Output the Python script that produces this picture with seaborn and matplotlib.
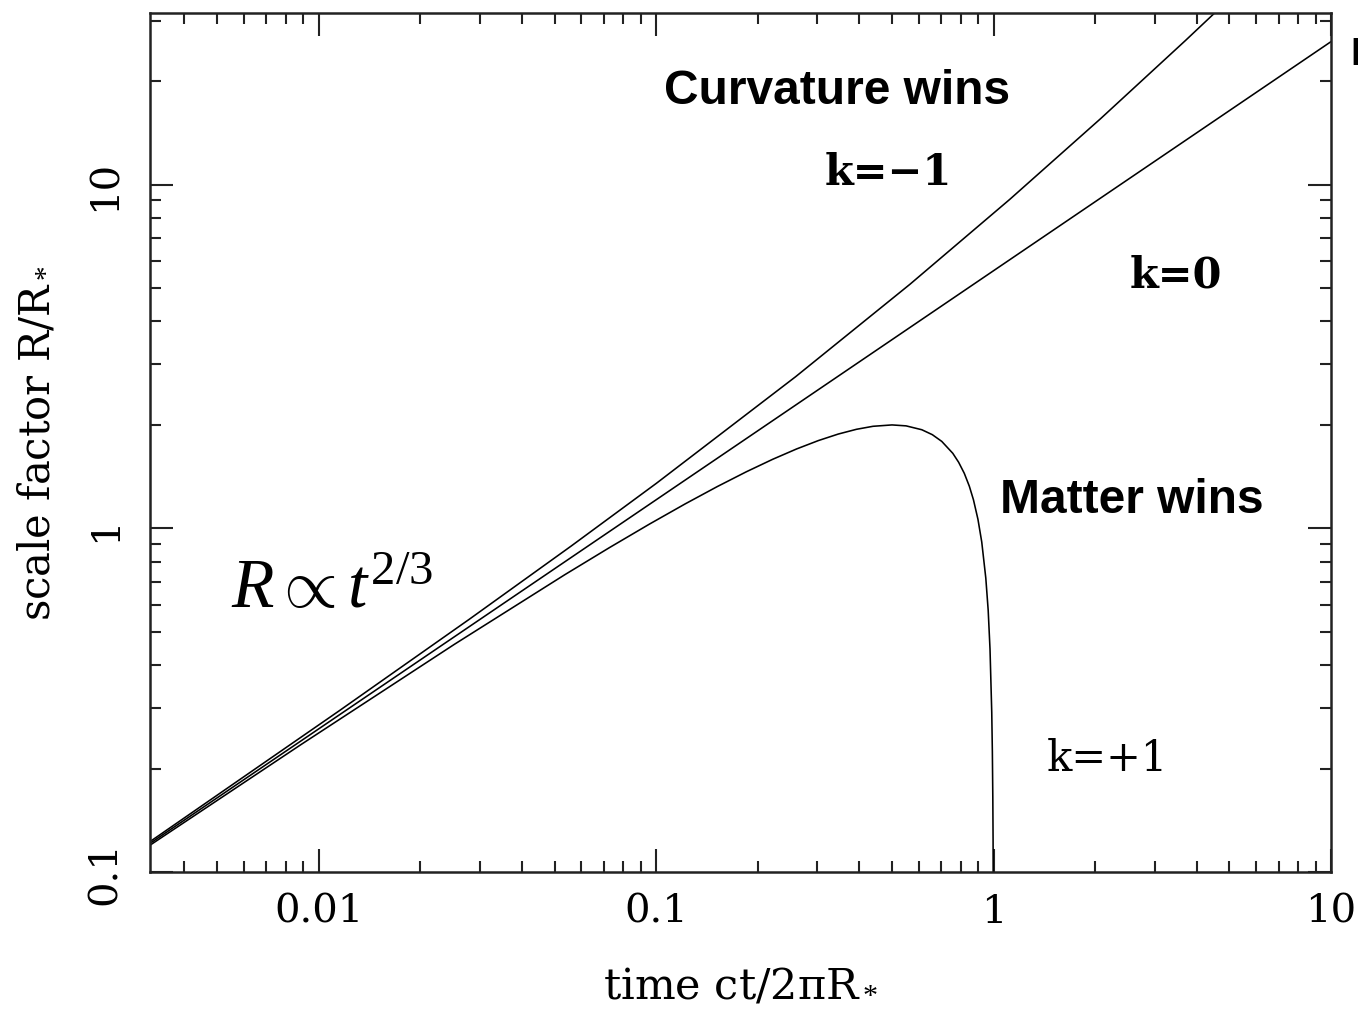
import numpy as np
import pandas as pd
import seaborn as sns
import matplotlib.pyplot as plt
from matplotlib.ticker import LogLocator, NullFormatter, FixedLocator, FixedFormatter

# k = -1 (open universe)
t_open = [0.003158, 0.003357, 0.01151, 0.027884, 0.056009, 0.10015, 0.25892,
          0.56503, 1.11693, 2.07579, 3.7067, 5.1794]
r_open = [0.122471, 0.127626, 0.294683, 0.543081, 0.888424, 1.35241, 2.762196,
          5.132289, 9.06766, 15.5728, 26.3082, 35.8567]

# k = 0 (flat universe)
t_flat = [0.00318, 0.1, 1.0, 10.0]
r_flat = [0.12156, 1.2111, 5.622, 26.09]

# k = +1 (closed universe)
t_closed = [0.003083, 0.003274, 0.008878, 0.025231, 0.053546, 0.07278, 0.095561,
            0.12191, 0.15179, 0.18504, 0.22147, 0.26078, 0.30264, 0.34663,
            0.39232, 0.43918, 0.5, 0.55032, 0.61287, 0.65839, 0.70217, 0.75707,
            0.78786, 0.81885, 0.84755, 0.87178, 0.89891, 0.92249, 0.94839,
            0.96391, 0.97598, 0.98764, 0.99174, 0.99483, 0.99667, 0.99758]
r_closed = [0.117667, 0.12242, 0.235158, 0.459698, 0.732501, 0.8795, 1.0292,
            1.17825, 1.32329, 1.46107, 1.5885, 1.70271, 1.80114, 1.88158,
            1.94222, 1.9817, 2.0, 1.98748, 1.93646, 1.87352, 1.79097, 1.65364,
            1.5573, 1.44602, 1.32623, 1.2108, 1.06235, 0.912501, 0.716338,
            0.57766, 0.445626, 0.29133, 0.22443, 0.16529, 0.12394, 0.09154]

x_ticks = [0.01, 0.1, 1, 10]
x_tick_labels = ['0.01', '0.1', '1', '10']
y_ticks = [0.1, 1, 10]
y_tick_labels = ['0.1', '1', '10']

sns.set_style('ticks')
plt.rcParams['font.family'] = ['DejaVu Serif']
plt.rcParams['text.color'] = 'black'
plt.rcParams['axes.labelcolor'] = 'black'
plt.rcParams['xtick.color'] = 'black'
plt.rcParams['ytick.color'] = 'black'
plt.rcParams['mathtext.fontset'] = 'custom'
plt.rcParams['mathtext.rm'] = 'Liberation Serif'
plt.rcParams['mathtext.it'] = 'Liberation Serif:italic'

df = pd.concat([
    pd.DataFrame({'t': t_open, 'R': r_open, 'k': 'k=-1'}),
    pd.DataFrame({'t': t_flat, 'R': r_flat, 'k': 'k=0'}),
    pd.DataFrame({'t': t_closed, 'R': r_closed, 'k': 'k=+1'}),
])

fig = plt.figure(figsize=(13.58, 10.12), dpi=100)
ax = fig.add_axes([0.1105, 0.1374, 0.8696, 0.8488])

for name, grp in df.groupby('k', sort=False):
    sns.lineplot(data=grp, x='t', y='R', ax=ax, sort=False, estimator=None,
                 color='black', linewidth=1.15, legend=False)

ax.set_xscale('log')
ax.set_yscale('log')
ax.set_xlim(10 ** -2.5, 10)
ax.set_ylim(0.1, 10 ** 1.5)

ax.xaxis.set_major_locator(FixedLocator(x_ticks))
ax.xaxis.set_major_formatter(FixedFormatter(x_tick_labels))
ax.yaxis.set_major_locator(FixedLocator(y_ticks))
ax.yaxis.set_major_formatter(FixedFormatter(y_tick_labels))
for axis in (ax.xaxis, ax.yaxis):
    axis.set_minor_locator(LogLocator(base=10, subs=np.arange(2, 10), numticks=20))
    axis.set_minor_formatter(NullFormatter())

ax.tick_params(which='both', direction='in', top=True, right=True, width=1.5, color='#222222')
ax.tick_params(which='major', length=16.5)
ax.tick_params(which='minor', length=8)
ax.tick_params(axis='x', which='major', pad=15, labelsize=29)
ax.tick_params(axis='y', which='major', pad=19, labelsize=29)
for lab in ax.get_yticklabels():
    lab.set_rotation(90)
    lab.set_va('center')
for sp in ax.spines.values():
    sp.set_linewidth(1.8)
    sp.set_color('#222222')

ax.set_xlabel('time ct/2\u03c0R$_*$', fontsize=31, labelpad=25)
ax.set_ylabel('scale factor R/R$_*$', fontsize=30, labelpad=20)

ax.text(0.343, 18.8, 'Curvature wins', family='Liberation Sans', weight='bold',
        fontsize=34.5, ha='center', va='center')
ax.text(0.489, 10.9, 'k=\u22121', weight='bold', fontsize=30, ha='center', va='center')
ax.text(3.46, 5.47, 'k=0', weight='bold', fontsize=30, ha='center', va='center')
ax.text(2.56, 1.21, 'Matter wins', family='Liberation Sans', weight='bold',
        fontsize=34.5, ha='center', va='center')
ax.text(2.18, 0.214, 'k=+1', fontsize=30, ha='center', va='center')
ax.text(0.00549, 0.589, r'$R \propto t^{\mathrm{2/3}}$', fontsize=50,
        ha='left', va='baseline')
fig.text(1350 / 1358, 1 - 55 / 1012, 'E', family='Liberation Sans', weight='bold',
         fontsize=28, ha='left', va='center')

plt.savefig('out.png', dpi=100)
